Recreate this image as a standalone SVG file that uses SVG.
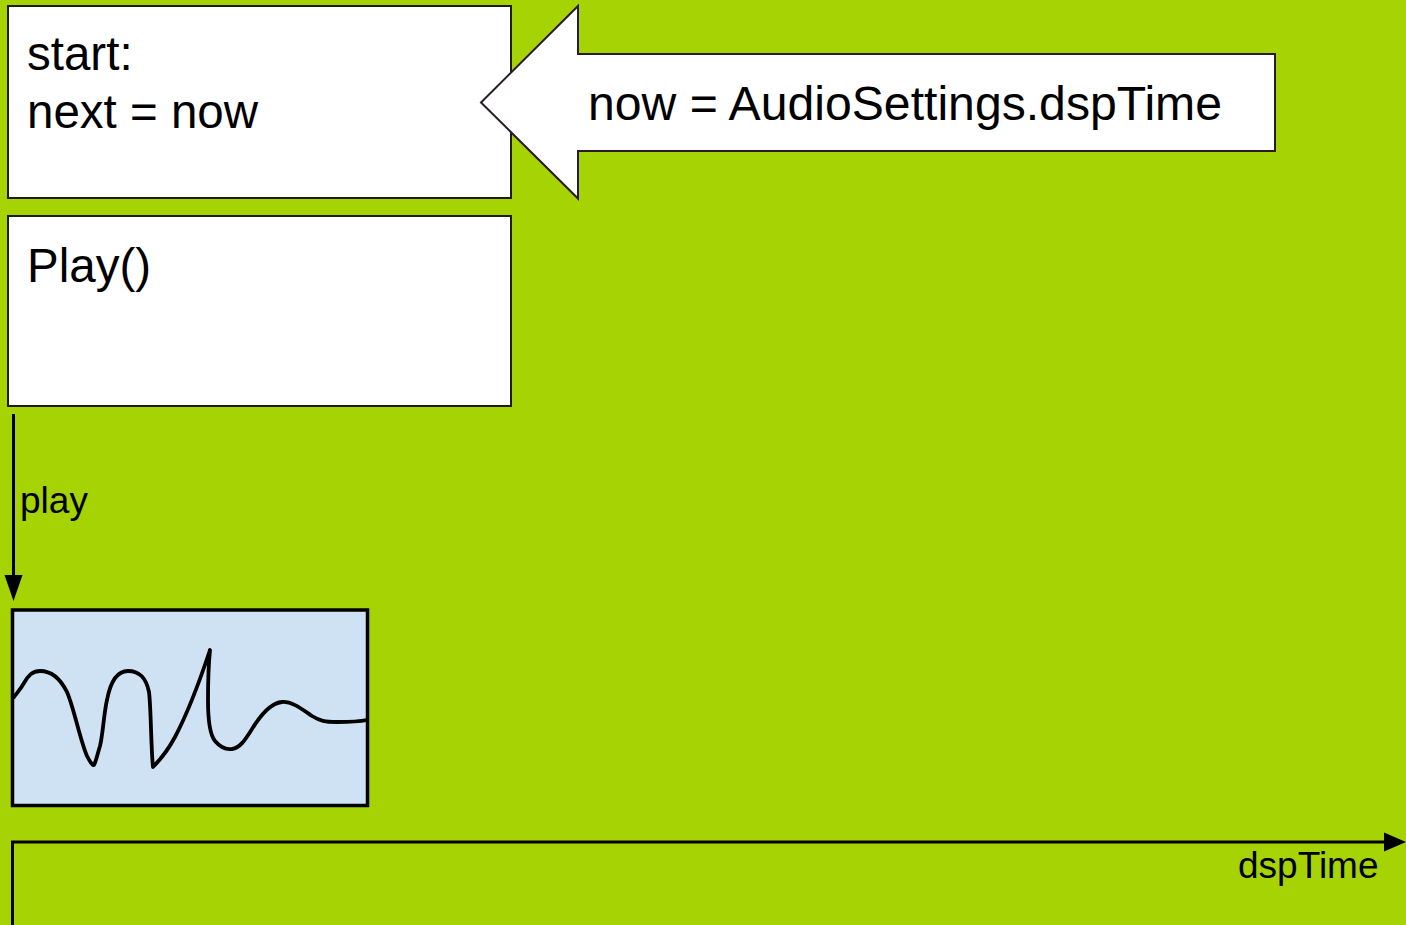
<svg xmlns="http://www.w3.org/2000/svg" width="1406" height="925" viewBox="0 0 1406 925">
  <style>
    .box { fill: #ffffff; stroke: #1c1c1c; stroke-width: 2; }
    .big { font-family: "Liberation Sans", Arial, sans-serif; font-size: 47.5px; fill: #000; }
    .small { font-family: "Liberation Sans", Arial, sans-serif; font-size: 37px; fill: #000; }
    .wire { stroke: #000; stroke-width: 3; fill: none; }
    .tip { fill: #000; stroke: none; }
  </style>

  <!-- background -->
  <rect x="0" y="0" width="1406" height="925" fill="#a6d304"/>

  <g id="start-box">
    <rect class="box" x="8" y="6" width="503" height="192"/>
    <text class="big" x="27" y="70">start:</text>
    <text class="big" x="27" y="128">next = now</text>
  </g>

  <g id="play-box">
    <rect class="box" x="8" y="216" width="503" height="190"/>
    <text class="big" x="27" y="282">Play()</text>
  </g>

  <g id="dsptime-arrow">
    <path d="M481,102.5 L578,6 L578,54 L1275,54 L1275,151 L578,151 L578,198.5 Z" fill="#ffffff" stroke="#2b1a2b" stroke-width="2"/>
    <text class="big" x="588" y="120" textLength="634" lengthAdjust="spacingAndGlyphs">now = AudioSettings.dspTime</text>
  </g>

  <g id="clip">
    <rect x="12.5" y="610" width="355" height="195.5" fill="#cfe2f3" stroke="#000" stroke-width="3.5"/>
    <path d="M14,697 C17,693 20,690 24,683 C28,676 32,671 40,671 C50,671 60,678 67,692 C74,708 80,740 87,756 C90,762 93,766 94,765 C96,762 98,752 100,746 C103,734 104,712 107,700 C110,684 116,671 128,671 C140,671 146,678 149,692 C151,706 151,750 153,767 C160,760 168,750 175,737 C185,718 195,695 209,653 L210,650 C209,660 208,680 208,700 C208,720 210,735 215,741 C221,748 226,750 232,749 C240,748 245,740 252,729 C260,716 270,703 282,702 C292,701 303,710 312,716 C320,721 325,722 337,722 C347,722 357,722 367,720" fill="none" stroke="#000" stroke-width="3.8" stroke-linecap="round" stroke-linejoin="round"/>
  </g>

  <g id="connectors">
    <!-- play: from Play() down to the clip -->
    <line class="wire" x1="13.5" y1="414" x2="13.5" y2="578"/>
    <polygon class="tip" points="4.5,575 22.5,575 13.5,601"/>
    <text class="small" x="20" y="513">play</text>
    <!-- dspTime axis -->
    <path class="wire" d="M12.5,925 L12.5,842 L1386,842"/>
    <polygon class="tip" points="1384,832.5 1406,842 1384,851.5"/>
    <text class="small" x="1238" y="878">dspTime</text>
  </g>
</svg>
